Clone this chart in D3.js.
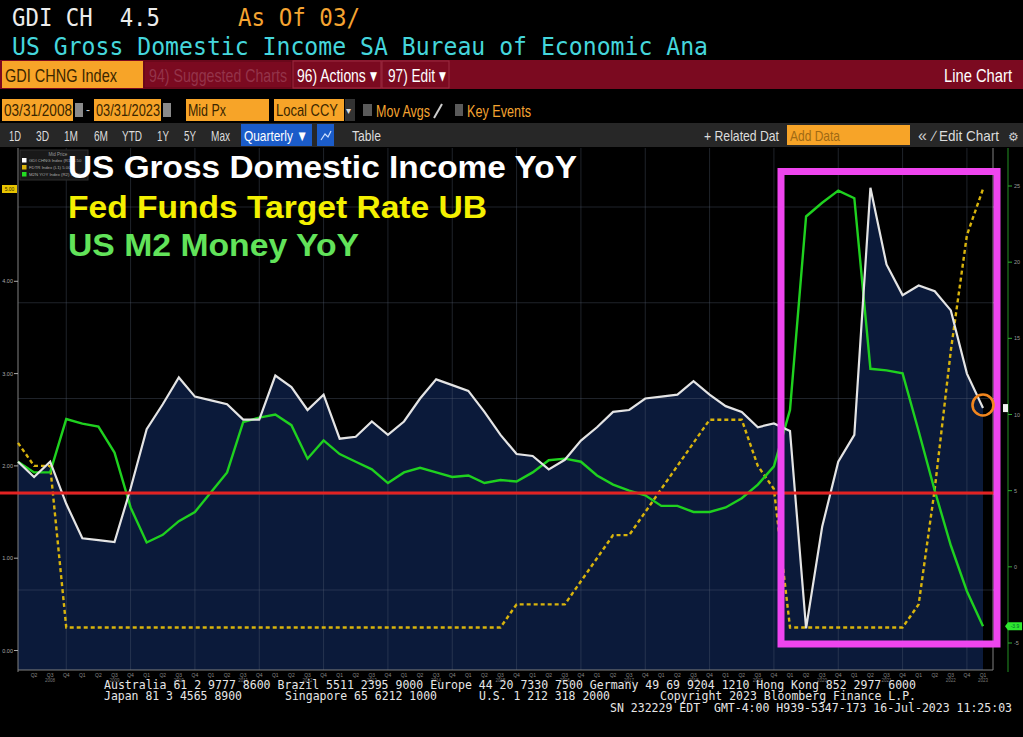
<!DOCTYPE html>
<html><head><meta charset="utf-8">
<script src="https://cdn.jsdelivr.net/npm/d3@7/dist/d3.min.js"></script>
<style>body{margin:0;background:#000;overflow:hidden}svg{display:block}</style>
</head><body><svg id="c" width="1023" height="737"></svg>
<script>
// ---------------- data ----------------
const quarters = [
 "2008Q1","2008Q2","2008Q3","2008Q4","2009Q1","2009Q2","2009Q3","2009Q4",
 "2010Q1","2010Q2","2010Q3","2010Q4","2011Q1","2011Q2","2011Q3","2011Q4",
 "2012Q1","2012Q2","2012Q3","2012Q4","2013Q1","2013Q2","2013Q3","2013Q4",
 "2014Q1","2014Q2","2014Q3","2014Q4","2015Q1","2015Q2","2015Q3","2015Q4",
 "2016Q1","2016Q2","2016Q3","2016Q4","2017Q1","2017Q2","2017Q3","2017Q4",
 "2018Q1","2018Q2","2018Q3","2018Q4","2019Q1","2019Q2","2019Q3","2019Q4",
 "2020Q1","2020Q2","2020Q3","2020Q4","2021Q1","2021Q2","2021Q3","2021Q4",
 "2022Q1","2022Q2","2022Q3","2022Q4","2023Q1"];
const gdiYoY = [
 1.7, 0.9, 1.7, -0.5, -2.3, -2.4, -2.5, 0.3,
 3.4, 4.7, 6.1, 5.1, 4.9, 4.7, 3.9, 3.9,
 6.2, 5.6, 4.4, 5.2, 2.9, 3.0, 3.8, 3.1,
 3.8, 5.0, 6.0, 5.7, 5.4, 4.3, 3.1, 2.1,
 2.0, 1.3, 1.8, 2.8, 3.5, 4.3, 4.4, 5.0,
 5.1, 5.2, 5.9, 5.2, 4.6, 4.3, 3.5, 3.7,
 3.3, -7.0, -1.7, 1.7, 3.1, 16.0, 12.0, 10.4,
 10.9, 10.6, 9.6, 6.3, 4.5];
const fedFundsUB = [
 2.25, 2.00, 2.00, 0.25, 0.25, 0.25, 0.25, 0.25,
 0.25, 0.25, 0.25, 0.25, 0.25, 0.25, 0.25, 0.25,
 0.25, 0.25, 0.25, 0.25, 0.25, 0.25, 0.25, 0.25,
 0.25, 0.25, 0.25, 0.25, 0.25, 0.25, 0.25, 0.50,
 0.50, 0.50, 0.50, 0.75, 1.00, 1.25, 1.25, 1.50,
 1.75, 2.00, 2.25, 2.50, 2.50, 2.50, 2.00, 1.75,
 0.25, 0.25, 0.25, 0.25, 0.25, 0.25, 0.25, 0.25,
 0.50, 1.75, 3.25, 4.50, 5.00];
const m2YoY = [
 6.9, 6.2, 6.2, 9.7, 9.4, 9.2, 7.5, 3.9,
 1.6, 2.1, 3.0, 3.6, 4.9, 6.2, 9.5, 9.8,
 10.0, 9.3, 7.1, 8.3, 7.4, 6.9, 6.4, 5.5,
 6.2, 6.5, 6.2, 5.9, 6.0, 5.5, 5.7, 5.6,
 6.2, 7.0, 7.1, 6.9, 6.0, 5.4, 5.0, 4.7,
 4.0, 4.0, 3.6, 3.6, 3.9, 4.5, 5.4, 6.6,
 10.3, 23.0, 23.9, 24.7, 24.2, 13.0, 12.9, 12.7,
 8.9, 5.0, 1.4, -1.6, -3.9];
const leftTicks = [0, 1, 2, 3, 4];
const rightTicks = [-5, 0, 5, 10, 15, 20, 25];
const gdiGridTicks = [-5, 0, 5, 10, 15];
const years = ["2008","2009","2010","2011","2012","2013","2014","2015","2016","2017","2018","2019","2020","2021","2022","2023"];

// ---------------- setup ----------------
const svg = d3.select("#c");
const MONO = '"DejaVu Sans Mono","Liberation Mono",monospace';
const NARROW = '"Liberation Sans Narrow","Arial Narrow","Liberation Sans",sans-serif';
const SANS = '"Liberation Sans",Arial,sans-serif';
function T(x, y, s, o) {
  o = o || {};
  const t = svg.append("text").attr("x", x).attr("y", y).text(s)
    .attr("font-family", o.family || SANS).attr("font-size", o.size || 12)
    .attr("fill", o.fill || "#fff").style("white-space", "pre");
  if (o.weight) t.attr("font-weight", o.weight);
  if (o.anchor) t.attr("text-anchor", o.anchor);
  if (o.len) t.attr("textLength", o.len).attr("lengthAdjust", "spacingAndGlyphs");
  return t;
}
function R(x, y, w, h, fill, stroke) {
  const r = svg.append("rect").attr("x", x).attr("y", y).attr("width", w).attr("height", h).attr("fill", fill);
  if (stroke) r.attr("stroke", stroke);
  return r;
}
R(0, 0, 1023, 737, "#000");

// ---------------- header ----------------
T(12, 26, "GDI CH  4.5", {family: MONO, size: 24, fill: "#ececec", len: 148});
T(238, 26, "As Of 03/", {family: MONO, size: 24, fill: "#f5a431", len: 122});
T(12, 55, "US Gross Domestic Income SA Bureau of Economic Ana", {family: MONO, size: 24, fill: "#45d6dc", len: 696});

// red command band
R(0, 60, 1023, 29, "#7b0a20");
R(2, 61, 141, 27, "#f7a428");
T(5, 82, "GDI CHNG Index", {family: NARROW, size: 19, fill: "#3a2600", len: 112});
R(144, 61, 148, 27, "#7b0a20", "#5c0716");
T(149, 82, "94) Suggested Charts", {family: NARROW, size: 19, fill: "#94344a", len: 138});
R(293, 61, 88, 27, "#7b0a20", "#9c2a40");
T(297, 82, "96) Actions \u25BE", {family: NARROW, size: 19, fill: "#fff", len: 80});
R(382, 61, 67, 27, "#7b0a20", "#9c2a40");
T(388, 82, "97) Edit \u25BE", {family: NARROW, size: 19, fill: "#fff", len: 58});
T(944, 82, "Line Chart", {family: NARROW, size: 19, fill: "#fff", len: 68});

// date row
function orangeBox(x, w, label, lw) {
  R(x, 99, w, 22, "#f7a428");
  T(x + 2, 116, label, {family: NARROW, size: 17, fill: "#3a2600", len: lw});
}
orangeBox(2, 71, "03/31/2008", 68);
R(75, 103, 8, 14, "#8a8a8a");
T(86, 114, "-", {family: NARROW, size: 12, fill: "#ccc"});
orangeBox(94, 67, "03/31/2023", 64);
R(163, 103, 8, 14, "#8a8a8a");
orangeBox(186, 83, "Mid Px", 38);
orangeBox(274, 70, "Local CCY", 62);
R(345, 99, 10, 22, "#333");
T(346, 114, "\u25BE", {size: 10, fill: "#ddd"});
R(363, 104, 9, 12, "#5a5a5a");
T(376, 117, "Mov Avgs", {family: NARROW, size: 17, fill: "#f5a431", len: 54});
svg.append("line").attr("x1", 434).attr("y1", 118).attr("x2", 442).attr("y2", 104).attr("stroke", "#ccc").attr("stroke-width", 2);
R(455, 104, 8, 12, "#5a5a5a");
T(467, 117, "Key Events", {family: NARROW, size: 17, fill: "#f5a431", len: 64});

// period row
R(0, 123, 1023, 24, "#272727");
const periods = [["1D", 9, 12], ["3D", 36, 13], ["1M", 64, 14], ["6M", 94, 14], ["YTD", 122, 20], ["1Y", 157, 12], ["5Y", 184, 12], ["Max", 211, 19]];
periods.forEach(p => T(p[1], 141, p[0], {family: NARROW, size: 15, fill: "#ddd", len: p[2]}));
R(241, 124, 71, 22, "#1b5cc9");
T(244, 141, "Quarterly \u25BC", {family: NARROW, size: 15, fill: "#fff", len: 64});
R(317, 124, 17, 22, "#1b5cc9");
svg.append("path").attr("d", "M321 140 L325 134 L328 137 L331 131").attr("stroke", "#cfe0ff").attr("fill", "none").attr("stroke-width", 1.2);
T(352, 141, "Table", {family: NARROW, size: 15, fill: "#ddd", len: 29});
T(704, 141, "+ Related Dat", {family: NARROW, size: 15, fill: "#ddd", len: 75});
R(787, 125, 123, 20, "#f7a428");
T(790, 141, "Add Data", {family: NARROW, size: 15, fill: "#a06a14", len: 50});
T(918, 141, "\u00AB", {family: NARROW, size: 16, fill: "#ccc"});
T(933, 141, "\u2215 Edit Chart", {family: NARROW, size: 15, fill: "#ddd", len: 66});
T(1008, 141, "\u2699", {size: 12, fill: "#ccc"});

// ---------------- chart ----------------
const X0 = 18, X1 = 993, YT = 148, YB = 670;
const x = d3.scaleLinear().domain([0, quarters.length - 1]).range([18, 983]);
const yL = d3.scaleLinear().domain([0, 5]).range([650.5, 189]);       // Fed funds (L1)
const yR = d3.scaleLinear().domain([-5, 25]).range([643, 186]);       // M2 YoY (R1)
const yG = d3.scaleLinear().domain([-5, 15]).range([590, 207]);       // GDI YoY (hidden axis)

// area under GDI
svg.append("path").datum(gdiYoY)
  .attr("d", d3.area().x((d, i) => x(i)).y0(YB).y1(d => yG(d)))
  .attr("fill", "#0b1a3a");

// gridlines
const grid = svg.append("g").attr("stroke", "#5a6478").attr("stroke-opacity", 0.35).attr("stroke-width", 1);
gdiGridTicks.forEach(v => grid.append("line").attr("x1", X0).attr("x2", X1).attr("y1", yG(v)).attr("y2", yG(v)));
quarters.forEach((q, i) => { if (q.endsWith("Q4")) grid.append("line").attr("x1", x(i)).attr("x2", x(i)).attr("y1", YT).attr("y2", YB); });

// axes frame
const ax = svg.append("g").attr("stroke", "#808080").attr("stroke-width", 1);
ax.append("line").attr("x1", X0).attr("x2", X0).attr("y1", YT).attr("y2", YB + 2);
ax.append("line").attr("x1", X0).attr("x2", X1).attr("y1", YB).attr("y2", YB);
ax.append("line").attr("x1", X1).attr("x2", X1).attr("y1", YT).attr("y2", YB);
gdiGridTicks.forEach(v => ax.append("line").attr("x1", X1).attr("x2", X1 + 3).attr("y1", yG(v)).attr("y2", yG(v)));

// left axis ticks (Fed funds)
leftTicks.forEach(v => {
  svg.append("line").attr("x1", X0 - 4).attr("x2", X0).attr("y1", yL(v)).attr("y2", yL(v)).attr("stroke", "#aaa");
  T(X0 - 5, yL(v) + 2, v.toFixed(2), {size: 5.5, fill: "#aaa", anchor: "end"});
});
// right axis (M2)
svg.append("line").attr("x1", 1008).attr("x2", 1008).attr("y1", YT).attr("y2", YB + 2).attr("stroke", "#1d7a1d").attr("stroke-width", 1.2);
rightTicks.forEach(v => {
  svg.append("line").attr("x1", 1008).attr("x2", 1012).attr("y1", yR(v)).attr("y2", yR(v)).attr("stroke", "#2faa2f");
  T(1014, yR(v) + 2, String(v), {size: 5.5, fill: "#9a9a9a"});
});

// x axis quarter ticks and year labels
quarters.forEach((q, i) => {
  if (i === 0) return;
  T(x(i), 677, q.slice(4), {size: 5, fill: "#888", anchor: "middle"});
});
years.forEach((yr) => {
  const idx = quarters.map((q, i) => q.startsWith(yr) ? i : -1).filter(i => i >= 0);
  const cx = (x(idx[0]) + x(idx[idx.length - 1])) / 2 + (idx.length === 1 ? 0 : 8);
  T(cx, 682, yr, {size: 4.5, fill: "#777", anchor: "middle"});
});

// series lines
svg.append("path").datum(fedFundsUB)
  .attr("d", d3.line().x((d, i) => x(i)).y(d => yL(d)))
  .attr("fill", "none").attr("stroke", "#d9b40c").attr("stroke-width", 2.4).attr("stroke-dasharray", "4,3");
svg.append("path").datum(m2YoY)
  .attr("d", d3.line().x((d, i) => x(i)).y(d => yR(d)))
  .attr("fill", "none").attr("stroke", "#1fd11f").attr("stroke-width", 2.4);
svg.append("path").datum(gdiYoY)
  .attr("d", d3.line().x((d, i) => x(i)).y(d => yG(d)))
  .attr("fill", "none").attr("stroke", "#e4e4e4").attr("stroke-width", 2.2);

// last value tags
const lastI = quarters.length - 1;
R(2, yL(fedFundsUB[lastI]) - 4, 15, 8, "#e8c400");
T(9.5, yL(fedFundsUB[lastI]) + 2, fedFundsUB[lastI].toFixed(2), {size: 5, fill: "#332a00", anchor: "middle"});
R(1003, yG(gdiYoY[lastI]) - 4, 5, 8, "#f0f0f0");
svg.append("path").attr("d", `M1008 ${yR(m2YoY[lastI]) - 4} L1022 ${yR(m2YoY[lastI]) - 4} L1022 ${yR(m2YoY[lastI]) + 4} L1008 ${yR(m2YoY[lastI]) + 4} L1005 ${yR(m2YoY[lastI])} Z`).attr("fill", "#2ee62e");
T(1015, yR(m2YoY[lastI]) + 2, m2YoY[lastI].toFixed(1), {size: 5, fill: "#063", anchor: "middle"});

// legend box
R(20, 150, 68, 30, "#191919", "#2e2e2e");
T(58, 156, "Mid Price", {size: 4.5, fill: "#999", anchor: "middle"});
const legendRows = [["GDI CHNG Index (R1) 4.50", "#fff"], ["FDTR Index (L1) 5.00", "#d9b40c"], ["M2N YOY Index (R2) -3.90", "#22dd22"]];
legendRows.forEach((r, k) => {
  R(22, 158 + k * 7, 4.5, 4.5, r[1]);
  T(29, 162 + k * 7, r[0], {size: 4.3, fill: "#aaa"});
});

// overlay titles
T(68, 178, "US Gross Domestic Income YoY", {size: 31, weight: "bold", fill: "#ffffff", len: 509});
T(68, 218, "Fed Funds Target Rate UB", {size: 31, weight: "bold", fill: "#f4f000", len: 419});
T(68, 256, "US M2 Money YoY", {size: 31, weight: "bold", fill: "#62e35a", len: 291});

// annotations
svg.append("line").attr("x1", 0).attr("x2", 997).attr("y1", 493).attr("y2", 493).attr("stroke", "#e32222").attr("stroke-width", 3);
svg.append("rect").attr("x", 781).attr("y", 171.5).attr("width", 216).attr("height", 472.5)
  .attr("fill", "none").attr("stroke", "#ef45ef").attr("stroke-width", 7);
svg.append("circle").attr("cx", 983).attr("cy", 405).attr("r", 10.5).attr("fill", "none").attr("stroke", "#f2861e").attr("stroke-width", 2.6);

// footer
const F = {family: MONO, size: 11.5, fill: "#e6e6e6"};
T(104, 689, "Australia 61 2 9777 8600 Brazil 5511 2395 9000 Europe 44 20 7330 7500 Germany 49 69 9204 1210 Hong Kong 852 2977 6000", Object.assign({len: 812}, F));
T(104, 700, "Japan 81 3 4565 8900", Object.assign({len: 138}, F));
T(285, 700, "Singapore 65 6212 1000", Object.assign({len: 152}, F));
T(479, 700, "U.S. 1 212 318 2000", Object.assign({len: 131}, F));
T(660, 700, "Copyright 2023 Bloomberg Finance L.P.", Object.assign({len: 256}, F));
T(610, 712, "SN 232229 EDT  GMT-4:00 H939-5347-173 16-Jul-2023 11:25:03", Object.assign({len: 402}, F));
</script></body></html>
